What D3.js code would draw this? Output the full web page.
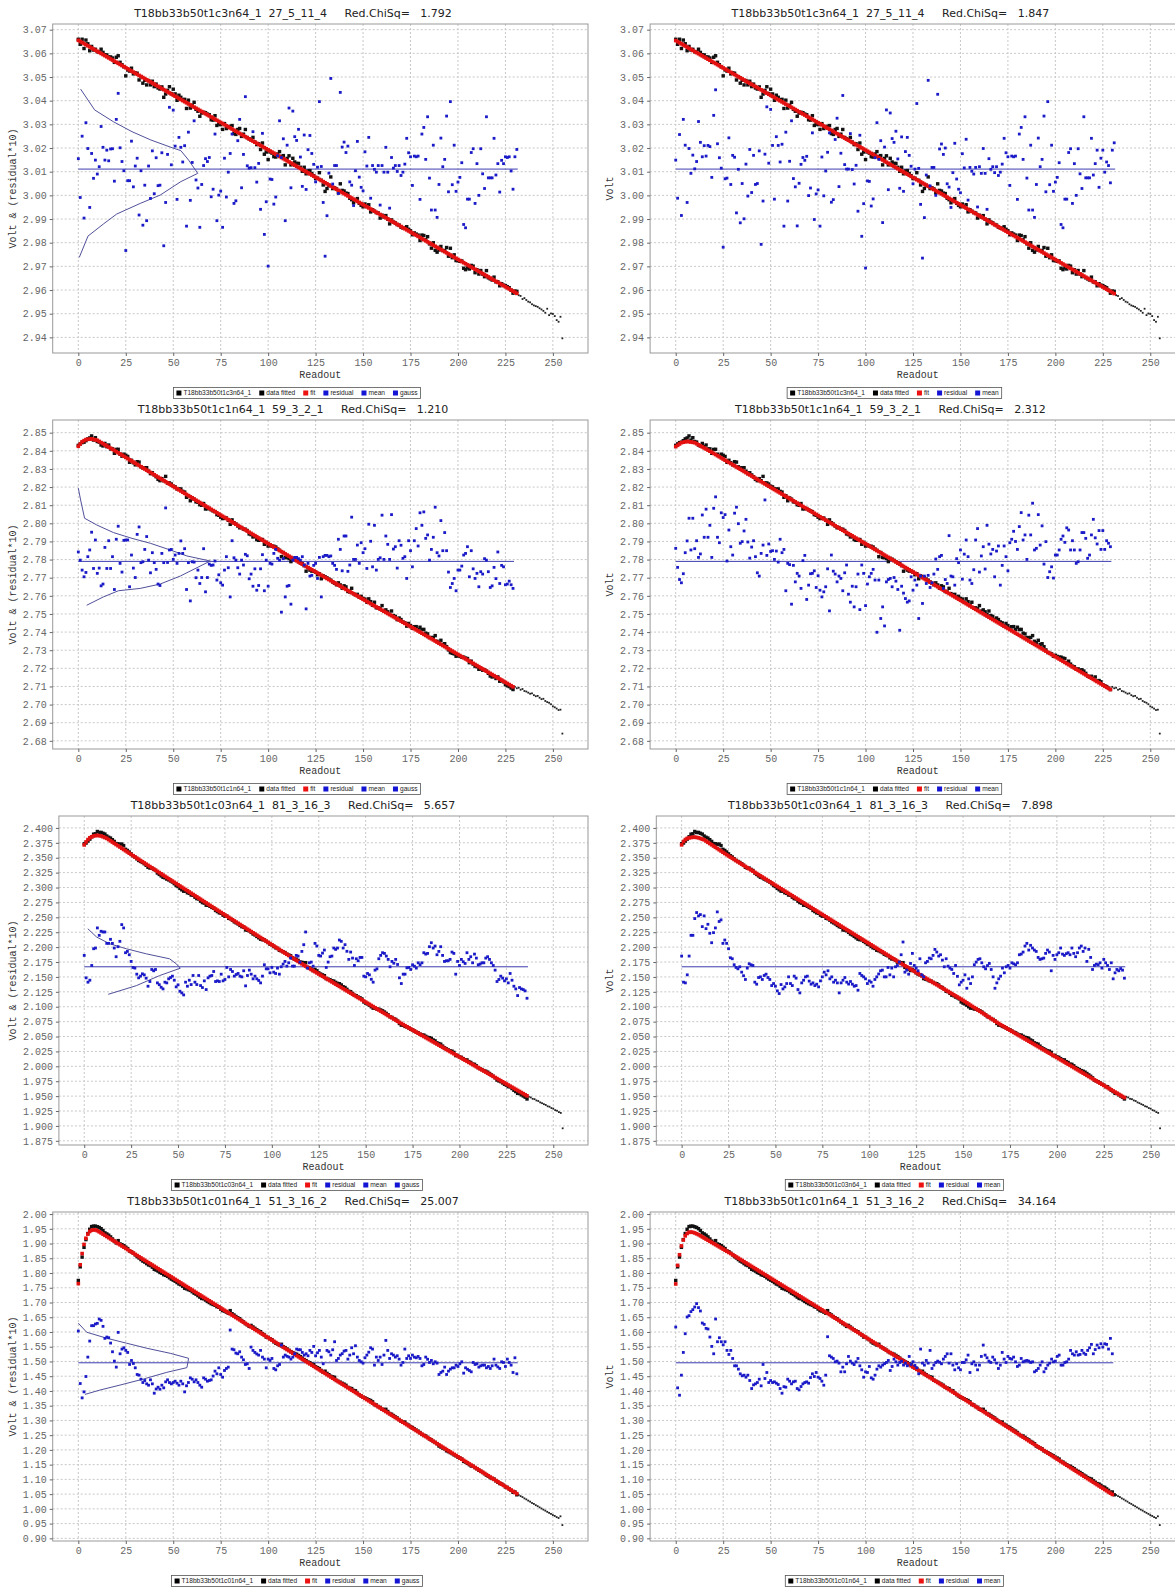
<!DOCTYPE html>
<html>
<head>
<meta charset="utf-8">
<script src="https://cdn.jsdelivr.net/npm/d3@7"></script>
<style>
  body { margin: 0; background: #fff; }
  svg { display: block; }
</style>
</head>
<body>
<svg id="chart" width="1175" height="1590"></svg>
<script>
// Readout axis ticks
var readoutTicks = [0, 25, 50, 75, 100, 125, 150, 175, 200, 225, 250];

// Volt axis ticks per row
var ticksC3 = [2.94, 2.95, 2.96, 2.97, 2.98, 2.99, 3.00, 3.01, 3.02, 3.03, 3.04, 3.05, 3.06, 3.07];
var ticksC1 = [2.68, 2.69, 2.70, 2.71, 2.72, 2.73, 2.74, 2.75, 2.76, 2.77, 2.78, 2.79, 2.80, 2.81, 2.82, 2.83, 2.84, 2.85];
var ticksC03 = [1.875, 1.900, 1.925, 1.950, 1.975, 2.000, 2.025, 2.050, 2.075, 2.100, 2.125, 2.150, 2.175, 2.200, 2.225, 2.250, 2.275, 2.300, 2.325, 2.350, 2.375, 2.400];
var ticksC01 = [0.90, 0.95, 1.00, 1.05, 1.10, 1.15, 1.20, 1.25, 1.30, 1.35, 1.40, 1.45, 1.50, 1.55, 1.60, 1.65, 1.70, 1.75, 1.80, 1.85, 1.90, 1.95, 2.00];

// Titles
var chanNames = ['T18bb33b50t1c3n64_1', 'T18bb33b50t1c1n64_1', 'T18bb33b50t1c03n64_1', 'T18bb33b50t1c01n64_1'];
var chanTags = ['27_5_11_4', '59_3_2_1', '81_3_16_3', '51_3_16_2'];
var chiC3 = ['1.792', '1.847'];
var chiC1 = ['1.210', '2.312'];
var chiC03 = ['5.657', '7.898'];
var chiC01 = ['25.007', '34.164'];

// Mean of the residual band (Volt)
var meanC3 = 3.0111;
var meanC1 = 2.7790;
var meanC03 = 2.1670;
var meanC01 = 1.4955;

// Residuals in mV, readout 0,1,2,...  (plotted as mean + residual*10)
var resC3L = [0.44,-1.20,1.39,-2.07,1.96,0.87,-1.62,0.66,-0.39,0.38,
  -0.21,0.10,1.80,0.92,0.38,0.80,0.35,0.85,0.86,-0.51,
  2.10,3.20,0.90,0.32,-0.07,-3.44,-0.49,-0.49,1.18,-0.75,
  0.13,0.46,-1.94,-0.07,-2.37,-0.68,-2.18,0.13,-1.24,0.77,
  -1.04,0.48,-0.70,-0.68,0.69,-3.24,-1.41,0.62,2.61,0.18,
  2.49,0.97,-1.28,1.34,0.92,0.30,0.99,-2.41,1.56,-1.32,
  0.28,2.04,-0.46,-0.80,-2.46,-0.65,0.15,0.44,0.32,0.49,
  -1.17,-0.85,1.48,-2.18,-1.10,-0.93,-2.46,0.46,-1.18,-0.13,
  0.66,1.48,-1.45,-1.34,1.20,2.10,-0.79,0.62,3.06,0.14,
  0.04,0.06,1.58,0.06,-0.55,0.24,-1.70,1.51,-2.76,-1.38,
  -4.10,-0.42,-0.44,-1.48,-1.18,0.56,2.04,0.49,1.28,-2.18,
  1.01,2.58,-0.79,2.45,1.37,1.21,1.68,0.51,-0.73,1.44,
  -0.86,0.82,1.42,0.66,0.20,-0.54,0.08,2.85,0.11,-1.41,
  -3.68,-1.97,-0.17,3.83,-0.63,0.15,0.15,-1.03,3.24,0.93,
  1.14,0.70,0.97,-0.54,-0.68,-1.54,-0.07,1.17,-0.34,-0.77,
  -0.92,0.73,0.13,1.34,-1.23,0.15,-0.01,-0.13,0.15,-1.52,
  0.15,-0.13,0.92,-0.13,-1.65,0.49,0.04,0.15,-0.10,0.15,
  -0.27,-0.13,0.21,1.30,0.69,0.52,-0.69,0.55,0.52,0.55,
  -1.28,1.48,1.76,0.41,2.21,-0.38,-1.73,1.01,-1.73,-2.04,
  -0.65,1.31,0.10,0.41,2.24,-0.96,2.85,-0.66,1.01,-0.94,
  -0.55,-0.35,0.27,-2.34,-2.48,-1.27,-1.27,0.70,0.86,-1.45,
  0.23,-1.11,0.86,-0.20,-0.82,2.21,-0.37,-0.37,-0.37,1.30,
  -0.25,0.23,-0.97,0.37,0.23,0.52,0.49,0.52,-0.08,-0.85,
  0.52,0.83];
var resC3R = [0.38,-1.23,1.46,-1.96,2.10,1.01,-1.41,0.87,-0.18,0.59,
  0.01,0.32,2.01,1.13,0.52,0.99,0.55,1.00,0.95,-0.35,
  2.27,3.35,1.07,0.48,0.04,-3.30,-0.41,-0.38,1.32,-0.65,
  0.58,0.50,-1.85,-0.01,-2.27,-0.61,-2.10,0.21,-1.14,0.83,
  -0.99,0.58,-0.65,-0.61,0.77,-3.18,-1.35,0.63,2.63,0.25,
  2.52,1.00,-1.27,1.37,1.00,0.30,1.05,-2.41,1.56,-1.35,
  0.33,2.04,-0.40,-0.75,-2.40,-0.60,0.20,0.49,0.37,0.54,
  -1.12,-0.80,1.53,-2.13,-1.05,-0.88,-2.41,0.51,-1.13,-0.08,
  0.71,1.53,-1.40,-1.29,1.25,2.15,-0.74,0.67,3.11,0.19,
  0.00,0.00,1.50,-0.02,-0.63,0.16,-1.78,1.43,-2.84,-1.46,
  -4.18,-0.50,-0.52,-1.56,-1.26,0.48,1.96,0.41,1.20,-2.26,
  0.93,2.50,-0.87,2.37,1.29,1.13,1.60,0.43,-0.81,1.36,
  -0.94,0.74,1.34,0.58,0.12,-0.62,0.00,2.77,0.03,-1.49,
  -3.76,-2.05,-0.25,3.75,-0.71,0.07,0.07,-1.11,3.16,0.85,
  1.06,0.62,0.89,-0.62,-0.76,-1.62,-0.15,1.09,-0.42,-0.85,
  -1.00,0.65,0.05,1.26,-1.31,0.07,-0.09,-0.21,0.07,-1.60,
  0.10,-0.18,0.87,-0.18,-1.70,0.44,-0.01,0.10,-0.15,0.10,
  -0.27,-0.13,0.21,1.30,0.69,0.52,-0.69,0.55,0.52,0.55,
  -1.28,1.48,1.76,0.41,2.21,-0.38,-1.73,1.01,-1.73,-2.04,
  -0.65,1.31,0.10,0.41,2.24,-0.96,2.85,-0.66,1.01,-0.94,
  -0.55,-0.35,0.27,-2.34,-2.48,-1.27,-1.27,0.70,0.86,-1.45,
  0.23,-1.11,0.86,-0.20,-0.82,2.21,-0.37,-0.37,-0.37,1.30,
  -0.25,0.23,0.80,-0.77,0.46,0.80,-0.13,0.30,0.15,-0.58,
  0.80,1.11];

var resC1L = [0.52,0.07,-0.48,-0.85,-0.61,0.26,0.63,1.61,-0.39,1.18,
  -0.66,-0.37,-1.35,-1.25,0.77,-0.39,1.14,-0.39,0.26,-1.55,
  1.22,1.94,-0.11,-0.59,1.16,1.18,1.18,-1.40,0.35,-0.37,
  -0.89,1.49,1.90,-0.07,-0.02,0.66,1.37,0.07,-0.63,0.48,
  -0.07,-0.44,-1.25,-1.33,0.44,-0.07,2.95,-0.06,0.63,0.66,
  0.11,0.35,-0.11,0.44,1.13,0.44,0.70,-1.55,-0.07,-2.18,
  -0.02,-0.04,-0.90,-0.48,-1.22,-0.89,0.70,-1.68,-0.89,-0.15,
  -0.22,-0.20,0.02,-1.03,-0.74,-1.18,-1.31,-0.48,0.26,-0.35,
  -1.96,1.14,0.20,0.07,-0.35,-0.70,0.07,-0.20,0.39,0.31,
  -0.96,-0.70,-1.37,-0.41,-1.59,-1.33,-0.41,0.37,-1.62,0.07,
  -1.37,-0.11,-0.15,0.44,0.66,0.17,0.07,-2.80,0.15,-1.96,
  -1.37,-1.33,-2.36,0.07,0.22,0.22,0.15,0.07,0.26,-0.20,
  -2.62,-0.11,-0.81,-0.77,-0.22,-0.11,-0.94,0.22,-1.96,0.26,
  0.33,0.33,0.26,0.30,-0.11,-0.22,-0.44,1.22,0.66,-0.52,
  1.40,1.40,-0.55,-0.20,2.44,0.11,0.11,0.90,-0.11,1.03,0.48,
  0.70,-0.39,2.05,1.11,-0.30,1.99,-0.48,0.11,0.20,2.55,
  0.11,1.40,0.94,0.11,2.58,0.68,0.81,-0.37,1.14,0.89,
  0.17,0.26,-0.94,1.14,0.59,-0.30,1.14,1.81,0.85,2.68,
  1.99,2.73,1.27,1.46,0.07,0.66,1.33,2.99,0.48,0.30,
  2.25,0.59,1.59,0.59,-0.59,-1.44,-1.22,-0.94,-1.62,-0.48,
  -0.48,-0.26,0.35,0.44,0.81,-0.85,0.59,-0.41,-0.94,-0.66,-1.40,
  -0.57,-0.70,0.15,0.07,-0.57,-1.44,-1.35,-0.33,-0.95,0.52,-1.22,
  -0.22,-0.30,-1.29,-1.25,-1.09,-1.29,-1.49];
var resC1R = [0.72,-0.33,-1.00,-1.18,-0.68,0.48,1.13,2.38,0.63,2.38,
  0.70,1.14,0.22,0.41,2.56,1.33,2.88,1.33,1.99,0.22,
  2.93,3.56,1.33,1.03,2.68,2.42,2.58,0.02,1.73,0.81,
  0.35,2.66,2.99,2.08,1.00,1.09,1.68,2.32,1.07,0.18,
  0.79,1.14,0.26,-0.63,-0.81,0.44,0.90,3.39,0.33,0.96,
  0.55,0.59,0.11,0.57,-0.04,1.22,0.48,0.66,-1.62,-0.11,
  -0.18,-2.36,-0.22,-1.13,-0.66,-0.81,-1.49,0.04,0.33,-2.10,
  -1.31,-0.68,-0.66,-0.52,-1.44,-0.79,-1.59,-1.96,-1.68,-1.40,
  -0.41,-2.73,0.35,-0.54,-0.70,-1.13,-0.81,-0.94,-1.62,-0.63,
  -0.20,-1.81,-2.25,-1.37,-2.51,-1.40,-0.70,-2.66,-0.20,-0.66,
  -2.44,-1.25,-0.85,-0.66,-0.44,-1.03,-3.91,-1.03,-3.15,-2.51,
  -3.56,-1.13,-1.00,-0.94,-1.40,-0.89,-1.09,-1.55,-3.80,-1.37,-1.75,
  -2.05,-2.25,-2.18,-0.85,-1.59,-1.03,-1.31,-3.15,-0.81,-2.32,
  -0.81,-1.22,-0.77,-1.44,-1.18,-0.70,
  0.13,-0.44,0.26,0.33,-1.49,-1.00,-1.22,1.42,-0.81,-0.85,-1.31,0.15,-0.07,0.63,-0.98,0.40,
  1.18,0.26,-1.03,-1.22,-0.46,1.18,1.81,-0.59,0.30,0.81,-0.42,1.99,0.95,
  0.41,0.66,-0.85,0.57,0.85,-1.31,-0.22,0.85,0.26,-0.52,1.03,1.22,1.66,1.10,
  0.66,1.92,2.69,1.18,1.46,0.11,2.55,1.46,3.21,0.63,0.72,2.58,0.90,1.96,-0.15,
  1.09,-0.89,-0.57,-0.30,-0.92,0.35,0.35,0.63,1.22,1.40,1.05,
  1.85,1.73,0.63,1.14,0.63,-0.11,-0.02,0.63,1.59,1.59,1.27,0.17,0.35,1.46,2.32,1.30,
  0.96,1.70,0.66,1.70,0.66,1.14,1.00,0.81];

var resC03L = [1.91,-1.85,-2.58,-2.25,0.22,3.03,3.15,6.52,5.28,5.96,
  5.84,5.84,3.93,3.93,4.61,3.93,3.15,1.69,3.37,4.27,
  7.08,6.52,2.36,2.58,2.02,0.90,-0.11,-0.22,-1.24,-1.85,
  -1.57,-1.18,-1.35,-1.91,-3.26,-2.47,-0.45,-0.67,-0.45,-2.70,-3.00,
  -3.43,-3.71,-2.58,-2.70,-2.02,-1.80,-1.57,-2.25,-3.37,-3.03,
  -4.10,-4.38,-4.72,-2.58,-3.26,-2.25,-2.98,-1.46,-2.58,-2.98,
  -1.46,-3.15,-3.48,-2.36,-3.82,-1.85,-1.57,-1.46,-0.79,-2.47,
  -2.36,-2.47,-1.24,-2.36,-2.13,-0.11,-1.69,-0.45,-0.79,-1.57,-1.30,
  -1.12,-1.57,-1.69,-0.67,-3.20,-1.46,-0.56,-1.24,-2.02,-1.57,
  -2.02,-2.30,-2.70,-1.57,0.34,-0.34,-0.34,-1.01,-0.11,-0.90,
  -1.12,-0.22,-1.24,0.00,0.45,0.90,0.11,0.67,1.46,0.11,
  0.11,1.91,1.80,0.79,2.58,3.71,5.84,-0.22,0.67,0.79,
  0.11,3.93,3.48,1.91,1.80,2.30,
  2.81,-0.11,0.79,1.69,1.80,3.15,2.92,3.15,4.49,4.27,3.15,3.71,2.60,
  1.24,2.47,1.46,0.22,1.35,1.01,1.57,1.57,-1.57,-1.69,-1.12,-1.35,-2.10,
  -2.58,-0.56,-0.34,1.35,1.91,2.36,2.25,1.80,1.24,0.00,0.90,0.60,
  1.24,0.39,-1.85,-2.81,-1.24,-1.24,-0.17,-0.11,-0.45,0.34,0.10,
  -0.22,0.67,0.34,0.67,2.36,2.13,2.25,3.37,4.04,3.15,3.48,2.02,2.58,3.37,1.91,
  0.90,1.01,1.01,1.24,2.47,2.25,-1.24,0.90,0.22,1.24,0.85,
  0.56,2.36,1.24,1.69,0.67,2.13,1.46,0.34,0.45,0.67,0.67,1.46,1.69,1.24,0.67,
  0.22,-0.56,-2.47,-2.13,-1.57,-1.90,
  -2.36,-2.02,-2.70,-1.12,-2.25,-3.26,-3.71,-4.83,-3.48,-3.71,-3.82,-4.04,-5.28];
var resC03R = [1.80,-2.58,-2.70,-1.35,1.80,5.28,5.28,8.09,9.10,8.54,
  8.76,6.74,8.54,6.40,7.13,5.62,4.04,5.73,6.52,9.21,7.60,
  7.87,3.93,4.49,3.93,3.03,1.52,1.35,0.34,-0.11,-0.34,0.00,-0.90,-1.50,
  -2.13,-0.22,0.51,0.34,0.22,-2.58,-2.92,-1.80,-1.69,-2.13,-1.46,-1.24,-1.80,
  -2.13,-3.15,-2.81,-3.26,-4.04,-4.49,-2.98,-3.71,-3.37,-2.81,-1.69,-2.81,-3.15,
  -1.57,-1.91,-3.82,-4.38,-2.70,-2.25,-1.69,-1.57,-2.40,
  -2.92,-2.70,-3.15,-2.92,-3.37,-2.36,-1.69,-0.90,-1.35,-0.67,-2.02,-1.69,-2.58,
  -2.25,-2.70,-4.38,-2.70,-2.25,-1.80,-2.58,-2.90,
  -2.47,-2.92,-3.26,-3.15,-3.93,-1.12,-1.46,-1.69,-2.02,-2.81,-2.36,-2.58,-3.26,
  -2.13,-1.69,-1.20,
  -0.67,-0.56,-1.69,-1.69,-0.11,-1.35,-0.22,-1.69,0.00,0.22,0.79,2.02,4.16,
  -0.90,-0.56,-1.24,0.56,2.25,0.22,-0.22,-0.67,1.35,-1.35,-1.69,0.67,0.90,
  1.46,1.35,1.91,2.92,2.47,1.80,2.02,1.12,0.00,1.35,0.11,-0.22,-0.45,-1.12,0.22,-1.60,
  -3.03,-2.58,-2.25,-1.35,-3.60,-2.02,-2.81,-1.69,0.34,0.79,1.24,1.35,0.67,0.00,-0.34,0.20,
  0.56,-0.45,-1.69,-3.60,-2.70,-2.02,-1.57,-0.22,-1.01,0.00,0.22,-0.22,0.67,0.50,
  0.34,0.67,2.02,2.13,2.47,3.48,3.93,2.81,3.60,3.15,2.81,2.58,1.57,1.24,1.35,
  1.46,2.25,2.81,2.47,-0.67,1.91,1.24,2.02,2.36,3.15,2.13,1.91,2.20,
  2.36,2.02,3.15,2.25,1.69,2.36,3.15,3.48,2.58,3.15,0.90,2.92,1.57,-0.45,0.22,0.45,
  0.34,0.67,-0.22,1.24,0.67,0.22,-0.45,0.67,-2.02,-1.01,-0.45,-0.67,-0.30,
  -0.56,-1.91];

var resC01L = [10.77,-7.03,-11.90,-9.86,-4.65,1.93,7.37,12.59,12.59,13.15,
  13.38,14.85,14.40,12.36,8.28,8.73,8.50,6.69,3.74,0.57,
  -1.47,10.32,3.06,4.65,5.10,4.20,
  3.51,-0.57,0.79,-0.23,-1.70,-3.97,-4.20,-5.56,-6.69,-6.01,-7.14,-7.60,-5.78,-7.14,-10.32,-8.90,
  -8.28,-8.96,-7.60,-8.50,-6.46,-5.78,-6.69,-7.14,-6.69,-6.24,-6.92,-7.60,-6.24,-7.14,-9.86,-7.80,
  -6.69,-5.10,-5.56,-6.46,-5.78,-6.69,-7.60,-8.28,-5.10,-5.56,-6.24,-6.01,-5.78,-4.50,
  -2.83,-3.74,-1.70,-3.97,-4.88,-2.61,-1.93,-1.47,11.11,4.65,4.42,3.29,3.06,3.74,
  1.93,1.02,-0.57,-0.34,-1.93,5.33,4.20,3.51,3.00,
  2.61,4.20,1.93,1.25,-1.70,1.25,0.79,1.47,-1.93,-2.38,-1.02,-0.57,6.01,1.93,2.61,2.20,
  1.93,1.25,1.93,3.06,4.65,4.42,4.42,3.51,2.61,3.06,2.38,4.20,3.51,5.56,2.38,3.40,
  4.20,1.93,-0.34,7.60,4.20,3.74,2.61,4.42,7.14,0.79,1.47,2.61,3.10,
  3.97,4.20,1.25,2.61,5.10,3.06,5.78,1.93,0.79,0.34,-0.11,1.70,2.61,3.60,
  5.10,4.65,-0.79,1.93,0.79,1.93,-0.57,2.61,7.60,4.20,1.47,3.06,2.61,1.93,2.38,
  1.25,-0.79,0.11,4.65,1.47,2.38,1.47,2.61,1.93,1.70,2.15,1.47,-1.02,-0.57,1.93,1.20,
  0.11,0.79,-0.34,0.34,-0.11,-3.97,-3.29,-2.83,-1.47,-3.97,-2.83,-2.15,-1.70,-1.70,
  -0.79,-1.25,-0.34,0.34,-3.51,-1.70,-2.20,
  -2.61,-3.06,0.11,-0.57,-0.34,-1.47,-1.02,-0.79,-0.79,-1.70,-1.25,-1.93,-1.02,1.25,-0.79,-1.40,
  -1.93,0.34,0.11,-1.25,1.25,0.11,-0.79,-3.29,1.70,-3.74];
var resC01R = [12.13,-8.50,-11.00,-4.20,3.51,9.86,15.53,15.99,17.35,18.03,
  18.93,20.07,18.71,17.57,13.49,13.04,11.68,11.45,8.73,5.56,
  3.06,14.85,7.14,8.50,7.14,6.10,
  7.14,4.20,2.83,4.20,1.47,-1.02,-1.02,-2.15,-3.74,-4.42,-4.20,-4.88,-4.20,-6.01,-8.73,-7.50,
  -7.14,-6.69,-5.56,-7.82,-0.57,-5.33,-3.29,-6.69,-6.01,-6.69,-6.46,-6.92,-7.37,-8.73,-10.32,-8.10,
  -8.28,-5.56,-6.24,-7.14,-6.46,-6.24,-8.73,-9.18,-8.05,-7.14,-6.69,-6.46,-6.92,-5.00,
  -3.74,-4.65,-3.29,-4.88,-5.33,-6.24,-7.60,-4.20,8.84,2.38,1.93,1.47,0.34,0.57,
  -0.11,-3.06,-1.47,-3.06,-0.34,2.15,0.57,-0.11,-0.60,
  0.34,1.47,-1.02,-2.38,-4.88,-3.06,-3.29,-1.25,-5.10,-5.56,-4.20,-2.15,-1.02,-1.47,-0.79,-0.30,
  0.11,0.79,-2.61,-1.25,1.25,0.34,-0.79,0.11,0.57,-0.79,-0.11,-1.02,2.15,-0.57,0.34,-0.90,
  -1.70,-3.74,4.65,-0.11,-0.79,0.79,-0.11,4.20,-1.93,-0.79,0.11,0.57,0.20,
  -0.34,1.25,2.15,3.06,-0.11,3.06,-0.79,-2.38,-0.34,-1.70,-2.38,0.11,0.11,1.00,
  2.61,-3.29,-0.34,0.34,-0.79,-2.38,-0.79,2.15,6.01,2.61,1.70,0.57,0.11,1.93,1.02,
  -0.11,-1.93,-0.79,3.51,1.25,0.11,2.15,1.47,1.25,1.93,0.34,-1.25,-0.79,1.47,0.34,0.60,
  0.79,0.57,0.11,0.34,-3.06,-2.61,-1.93,-0.79,0.34,-3.06,-1.93,-0.79,-0.11,1.25,
  0.34,0.57,2.15,2.61,-0.79,-0.79,0.10,
  0.34,1.25,4.20,3.06,2.61,3.74,2.61,2.83,4.20,3.29,2.83,4.20,5.10,6.24,3.06,4.50,
  6.01,5.10,6.46,5.33,6.46,6.24,4.65,8.28,3.06];

// Fit curves: readout knots and Volt values
var fitC3LX = [0, 231];
var fitC3LY = [3.0655, 2.9586];
var fitC3RX = [0, 231];
var fitC3RY = [3.0654, 2.9585];
var fitC1LX = [0, 2, 4, 7, 10, 18.5, 60, 120, 180, 229];
var fitC1LY = [2.8425, 2.8450, 2.8462, 2.8466, 2.8458, 2.8405, 2.8140, 2.7762, 2.7400, 2.7098];
var fitC1RX = [0, 3, 6, 10, 18.5, 229];
var fitC1RY = [2.8423, 2.8445, 2.8452, 2.8445, 2.8395, 2.7083];
var fitC03LX = [0, 1, 2, 3, 5, 7, 9, 12, 25, 70, 117, 170, 236];
var fitC03LY = [2.3715, 2.3765, 2.3805, 2.3835, 2.3865, 2.3875, 2.3865, 2.3825, 2.3555, 2.2640, 2.1700, 2.0700, 1.9505];
var fitC03RX = [0, 1, 2, 3, 5, 7, 9, 12, 25, 70, 117, 150, 170, 200, 236];
var fitC03RY = [2.3716, 2.3773, 2.3805, 2.3825, 2.3840, 2.3845, 2.3835, 2.3800, 2.3530, 2.2645, 2.1725, 2.1107, 2.0698, 2.0147, 1.9475];
var fitC01LX = [0, 1, 2, 3, 4, 5, 6, 7, 8, 9, 10, 12, 231];
var fitC01LY = [1.764, 1.828, 1.866, 1.897, 1.918, 1.932, 1.941, 1.945, 1.9465, 1.946, 1.9435, 1.936, 1.0515];
var fitC01RX = [0, 1, 2, 3, 4, 5, 6, 7, 8, 9, 10, 12, 30, 80, 150, 200, 230];
var fitC01RY = [1.763, 1.826, 1.862, 1.892, 1.912, 1.926, 1.934, 1.938, 1.939, 1.938, 1.936, 1.930, 1.8623, 1.6632, 1.3803, 1.1728, 1.0490];

// Raw data after the fitted range (Volt), following readouts up to 255
var tailC3 = [2.9578, 2.9575, 2.9562, 2.9566, 2.9558, 2.9551, 2.9548, 2.9540, 2.9535, 2.9532, 2.9529, 2.9523,
  2.9518, 2.9512, 2.9504, 2.9521, 2.9494, 2.9501, 2.9499, 2.9490, 2.9473, 2.9466, 2.9487, 2.9396];
var tailC1 = [2.7098, 2.7090, 2.7093, 2.7082, 2.7086, 2.7075, 2.7072, 2.7066, 2.7060, 2.7062, 2.7052, 2.7046, 2.7048,
  2.7038, 2.7030, 2.7032, 2.7020, 2.7014, 2.7010, 2.7002, 2.6990, 2.6985, 2.6978, 2.6970, 2.6972, 2.6840];
var tailC03 = [1.9490, 1.9478, 1.9455, 1.9449, 1.9428, 1.9418, 1.9395, 1.9382, 1.9365, 1.9352, 1.9330, 1.9322,
  1.9300, 1.9290, 1.9265, 1.9255, 1.9232, 1.9218, 1.8960];
var tailC01 = [1.0470, 1.0432, 1.0400, 1.0355, 1.0322, 1.0280, 1.0245, 1.0200, 1.0168, 1.0125, 1.0090, 1.0050,
  1.0012, 0.9975, 0.9940, 0.9900, 0.9865, 0.9830, 0.9790, 0.9760, 0.9720, 0.9690, 0.9748, 0.9450];

// Residual histogram outline (gauss), x in readout units, y in Volt
var gaussC3X = [1.2, 8.6, 18.5, 28.3, 38.2, 48.8, 54.0, 58.1, 62.9, 54.0, 43.1, 32.6, 20.2, 13.2, 5.1, 0.5];
var gaussC3Y = [3.0449, 3.0361, 3.0311, 3.0269, 3.0234, 3.0203, 3.0189, 3.0149, 3.0093, 3.0058, 3.0001, 2.9966, 2.9921, 2.9879, 2.9828, 2.9738];
var gaussC1X = [0, 1.2, 3.3, 9.7, 18.5, 28.3, 37.9, 48.4, 57.2, 69.5, 53.7, 43.1, 32.6, 21.1, 13.2, 4.4];
var gaussC1Y = [2.8194, 2.8129, 2.8028, 2.7991, 2.7949, 2.7917, 2.7890, 2.7853, 2.7820, 2.7792, 2.7709, 2.7665, 2.7641, 2.7628, 2.7594, 2.7548];
var gaussC03X = [1.9, 6.6, 13.6, 22.5, 33.1, 45.5, 49.1, 51.2, 40.2, 27.8, 12.8];
var gaussC03Y = [2.2309, 2.2169, 2.2056, 2.1972, 2.1887, 2.1804, 2.1719, 2.1646, 2.1523, 2.1354, 2.1208];
var gaussC01X = [0, 4.4, 15.0, 25.5, 36.1, 48.4, 58.1, 57.2, 46.6, 34.3, 22.0, 11.4, 3.5];
var gaussC01Y = [1.6298, 1.5992, 1.5788, 1.5618, 1.5448, 1.5277, 1.5107, 1.4790, 1.4631, 1.4404, 1.4200, 1.4030, 1.3883];

// Layout
var colX = [0, 597.4];
var rowH = 396;
var plotTop = 24, plotBottom = 353, plotRight = 588;
var xDomain = [-13.5, 268.5];
var monoFont = 'Liberation Mono, DejaVu Sans Mono, monospace';

var rows = [
  {name: chanNames[0], tag: chanTags[0], chi: chiC3, mean: meanC3, res: [resC3L, resC3R],
    fitX: [fitC3LX, fitC3RX], fitY: [fitC3LY, fitC3RY], tail: tailC3, gx: gaussC3X, gy: gaussC3Y,
    ticks: ticksC3, fmt: '.2f', domain: [2.9334, 3.0724], left: 52.7},
  {name: chanNames[1], tag: chanTags[1], chi: chiC1, mean: meanC1, res: [resC1L, resC1R],
    fitX: [fitC1LX, fitC1RX], fitY: [fitC1LY, fitC1RY], tail: tailC1, gx: gaussC1X, gy: gaussC1Y,
    ticks: ticksC1, fmt: '.2f', domain: [2.6755, 2.8570], left: 52.7},
  {name: chanNames[2], tag: chanTags[2], chi: chiC03, mean: meanC03, res: [resC03L, resC03R],
    fitX: [fitC03LX, fitC03RX], fitY: [fitC03LY, fitC03RY], tail: tailC03, gx: gaussC03X, gy: gaussC03Y,
    ticks: ticksC03, fmt: '.3f', domain: [1.8680, 2.4200], left: 58.9},
  {name: chanNames[3], tag: chanTags[3], chi: chiC01, mean: meanC01, res: [resC01L, resC01R],
    fitX: [fitC01LX, fitC01RX], fitY: [fitC01LY, fitC01RY], tail: tailC01, gx: gaussC01X, gy: gaussC01Y,
    ticks: ticksC01, fmt: '.2f', domain: [0.8910, 2.0070], left: 52.7}
];

var svg = d3.select('#chart');
svg.append('rect').attr('width', 1175).attr('height', 1590).attr('fill', '#fff');

rows.forEach(function(row, r) {
  drawPanel(row, r, 0);
  drawPanel(row, r, 1);
});

function drawPanel(row, r, side) {
  var g = svg.append('g')
    .attr('transform', 'translate(' + colX[side] + ',' + (r * rowH) + ')');

  var x = d3.scaleLinear().domain(xDomain).range([row.left, plotRight]);
  var y = d3.scaleLinear().domain(row.domain).range([plotBottom, plotTop]);

  // data = fit + residual (left fit defines the fitted points), then the raw tail
  var fitLeft = d3.scaleLinear().domain(row.fitX[0]).range(row.fitY[0]);
  var fit = d3.scaleLinear().domain(row.fitX[side]).range(row.fitY[side]);
  var nFit = row.res[0].length;
  var fitted = row.res[0].map(function(v, i) {
    return {i: i, v: fitLeft(i) + v / 1000};
  });
  var raw = fitted.concat(row.tail.map(function(v, k) {
    return {i: nFit + k, v: v};
  }));
  var res = row.res[side];

  // title
  g.append('text')
    .attr('x', 293).attr('y', 17)
    .attr('text-anchor', 'middle')
    .attr('font-family', 'DejaVu Sans, sans-serif')
    .attr('font-size', 11)
    .attr('fill', '#222')
    .style('white-space', 'pre')
    .text(row.name + '  ' + row.tag + '     Red.ChiSq=   ' + row.chi[side]);

  // plot background
  g.append('rect')
    .attr('x', row.left).attr('y', plotTop)
    .attr('width', plotRight - row.left).attr('height', plotBottom - plotTop)
    .attr('fill', '#fff');

  // grid
  g.append('g').selectAll('line')
    .data(readoutTicks)
    .enter().append('line')
    .attr('x1', function(d) { return x(d); })
    .attr('x2', function(d) { return x(d); })
    .attr('y1', plotTop).attr('y2', plotBottom)
    .attr('stroke', '#c8c8c8').attr('stroke-dasharray', '2,2');
  g.append('g').selectAll('line')
    .data(row.ticks)
    .enter().append('line')
    .attr('y1', function(d) { return y(d); })
    .attr('y2', function(d) { return y(d); })
    .attr('x1', row.left).attr('x2', plotRight)
    .attr('stroke', '#c8c8c8').attr('stroke-dasharray', '2,2');

  var clipId = 'clip' + r + '_' + side;
  g.append('clipPath').attr('id', clipId)
    .append('rect')
    .attr('x', row.left).attr('y', plotTop)
    .attr('width', plotRight - row.left).attr('height', plotBottom - plotTop);
  var marks = g.append('g').attr('clip-path', 'url(#' + clipId + ')');

  // mean line
  marks.append('line')
    .attr('x1', x(0)).attr('x2', x(res.length - 0.5))
    .attr('y1', y(row.mean)).attr('y2', y(row.mean))
    .attr('stroke', '#3c3cb0').attr('stroke-width', 1);

  // gauss outline (left panels only)
  if (side === 0) {
    var gaussPts = row.gx.map(function(d, k) { return [d, row.gy[k]]; });
    marks.append('path')
      .datum(gaussPts)
      .attr('fill', 'none')
      .attr('stroke', '#50509a')
      .attr('stroke-width', 1)
      .attr('d', d3.line()
        .x(function(d) { return x(d[0]); })
        .y(function(d) { return y(d[1]); }));
  }

  // raw data (small dots)
  marks.append('g').selectAll('rect')
    .data(raw)
    .enter().append('rect')
    .attr('x', function(d) { return x(d.i) - 0.9; })
    .attr('y', function(d) { return y(d.v) - 0.9; })
    .attr('width', 1.8).attr('height', 1.8)
    .attr('fill', '#222');

  // data fitted
  marks.append('g').selectAll('rect')
    .data(fitted)
    .enter().append('rect')
    .attr('x', function(d) { return x(d.i) - 1.7; })
    .attr('y', function(d) { return y(d.v) - 1.7; })
    .attr('width', 3.4).attr('height', 3.4)
    .attr('fill', '#111');

  // fit
  marks.append('g').selectAll('rect')
    .data(res.map(function(v, i) { return i; }))
    .enter().append('rect')
    .attr('x', function(i) { return x(i) - 1.8; })
    .attr('y', function(i) { return y(fit(i)) - 1.8; })
    .attr('width', 3.6).attr('height', 3.6)
    .attr('fill', '#e41010');

  // residual * 10 around the mean
  marks.append('g').selectAll('rect')
    .data(res)
    .enter().append('rect')
    .attr('x', function(v, i) { return x(i) - 1.4; })
    .attr('y', function(v) { return y(row.mean + v / 100) - 1.4; })
    .attr('width', 2.8).attr('height', 2.8)
    .attr('fill', '#1a1ac8');

  // outline
  g.append('rect')
    .attr('x', row.left).attr('y', plotTop)
    .attr('width', plotRight - row.left).attr('height', plotBottom - plotTop)
    .attr('fill', 'none').attr('stroke', '#999');

  // axes
  var xAxis = g.append('g')
    .attr('transform', 'translate(0,' + plotBottom + ')')
    .call(d3.axisBottom(x).tickValues(readoutTicks).tickSize(3).tickPadding(3).tickFormat(d3.format('d')));
  var yAxis = g.append('g')
    .attr('transform', 'translate(' + row.left + ',0)')
    .call(d3.axisLeft(y).tickValues(row.ticks).tickSize(3).tickPadding(3).tickFormat(d3.format(row.fmt)));
  [xAxis, yAxis].forEach(function(ax) {
    ax.select('.domain').remove();
    ax.attr('font-family', monoFont).attr('font-size', 10).style('color', '#666');
  });

  // axis labels
  g.append('text')
    .attr('x', (row.left + plotRight) / 2).attr('y', plotBottom + 25)
    .attr('text-anchor', 'middle')
    .attr('font-family', monoFont).attr('font-size', 10)
    .attr('fill', '#333')
    .text('Readout');
  g.append('text')
    .attr('transform', 'translate(12,' + ((plotTop + plotBottom) / 2) + ') rotate(-90)')
    .attr('text-anchor', 'middle').attr('dy', '0.35em')
    .attr('font-family', monoFont).attr('font-size', 10)
    .attr('fill', '#333')
    .text(side === 0 ? 'Volt & (residual*10)' : 'Volt');

  // legend
  var items = [
    {label: row.name, color: '#000'},
    {label: 'data fitted', color: '#000'},
    {label: 'fit', color: '#ee1111'},
    {label: 'residual', color: '#1414d4'},
    {label: 'mean', color: '#1414d4'}
  ];
  if (side === 0) items.push({label: 'gauss', color: '#1414d4'});
  drawLegend(g, items, 297, 393);
}

function drawLegend(g, items, cx, cy) {
  var lg = g.append('g');
  var box = lg.append('rect');
  var xpos = 3;
  items.forEach(function(it) {
    lg.append('rect')
      .attr('x', xpos).attr('y', cy - 2.5)
      .attr('width', 5).attr('height', 5)
      .attr('fill', it.color);
    var t = lg.append('text')
      .attr('x', xpos + 7).attr('y', cy + 2.3)
      .attr('font-family', 'Liberation Sans, Arial, sans-serif')
      .attr('font-size', 6.6)
      .attr('fill', '#222')
      .text(it.label);
    xpos += 7 + t.node().getComputedTextLength() + 8;
  });
  var w = xpos - 5;
  box.attr('x', 0).attr('y', cy - 5.5)
    .attr('width', w).attr('height', 11)
    .attr('fill', '#fff').attr('stroke', '#555').attr('stroke-width', 0.8);
  lg.attr('transform', 'translate(' + (cx - w / 2) + ',0)');
}
</script>
</body>
</html>
